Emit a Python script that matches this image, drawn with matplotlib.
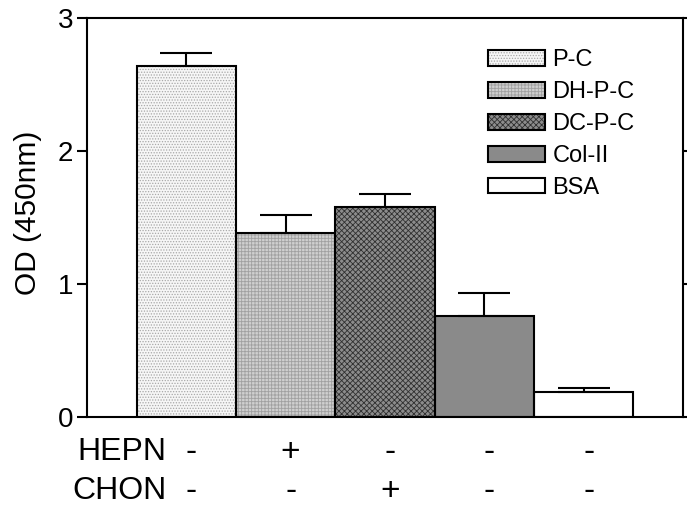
import numpy as np
import matplotlib
matplotlib.use("Agg")
import matplotlib.pyplot as plt
from matplotlib.patches import Patch
from matplotlib.legend_handler import HandlerTuple

plt.rcParams['font.family'] = ['Liberation Sans', 'DejaVu Sans']
plt.rcParams['hatch.linewidth'] = 0.6

labels = ["P-C", "DH-P-C", "DC-P-C", "Col-II", "BSA"]
od = [2.64, 1.38, 1.58, 0.76, 0.19]
err = [0.10, 0.14, 0.10, 0.17, 0.03]
hepn = ["-", "+", "-", "-", "-"]
chon = ["-", "-", "+", "-", "-"]

faces = ["#f6f6f6", "#cfcfcf", "#8c8c8c", "#8a8a8a", "white"]
hatch_cols = ["#a8a8a8", "#a0a0a0", "#303030", "#8a8a8a", "white"]
hatches = ["......", "+++++", "xxxxxx", None, None]

fig = plt.figure(figsize=(6.87, 5.08), dpi=100)
ax = fig.add_axes([0.1266, 0.179, 0.8676, 0.7856])

x = np.arange(len(od))
handles = []
for i in range(len(od)):
    ax.bar(x[i], od[i], width=1.0, color=faces[i], edgecolor=hatch_cols[i],
           hatch=hatches[i], linewidth=0, zorder=2)
    ax.bar(x[i], od[i], width=1.0, facecolor="none", edgecolor="black",
           linewidth=1.5, zorder=3)
    p1 = Patch(facecolor=faces[i], edgecolor=hatch_cols[i], hatch=hatches[i], linewidth=0)
    p2 = Patch(facecolor="none", edgecolor="black", linewidth=1.5)
    handles.append((p1, p2))

ax.errorbar(x, od, yerr=[np.zeros(len(err)), err], fmt="none", ecolor="black",
            elinewidth=1.5, capsize=19, capthick=1.5, zorder=4)

ax.set_xlim(-1, 5)
ax.set_ylim(0, 3)
ax.set_yticks([0, 1, 2, 3])
ax.set_xticks([])
for s in ax.spines.values():
    s.set_linewidth(1.5)
ax.tick_params(axis="y", direction="out", length=7, width=1.5, pad=3,
               labelsize=20, right=True)
ax.set_ylabel("OD (450nm)", fontsize=21.5)
ax.yaxis.set_label_coords(-0.075, 0.512)

ax.legend(handles, labels, handler_map={tuple: HandlerTuple(ndivide=1, pad=0)},
          loc="upper left", bbox_to_anchor=(0.672, 0.922), frameon=False,
          fontsize=17, handlelength=2.45, handleheight=0.66, handletextpad=0.3,
          labelspacing=0.42, borderpad=0, borderaxespad=0)

ax.text(-0.2, -0.088, "HEPN", transform=ax.get_xaxis_transform(), ha="right",
        va="center", fontsize=23)
ax.text(-0.2, -0.186, "CHON", transform=ax.get_xaxis_transform(), ha="right",
        va="center", fontsize=23)
for i in range(len(od)):
    ax.text(x[i] + 0.05, -0.088, hepn[i], transform=ax.get_xaxis_transform(),
            ha="center", va="center", fontsize=24)
    ax.text(x[i] + 0.05, -0.186, chon[i], transform=ax.get_xaxis_transform(),
            ha="center", va="center", fontsize=24)

fig.savefig("out.png", dpi=100)
